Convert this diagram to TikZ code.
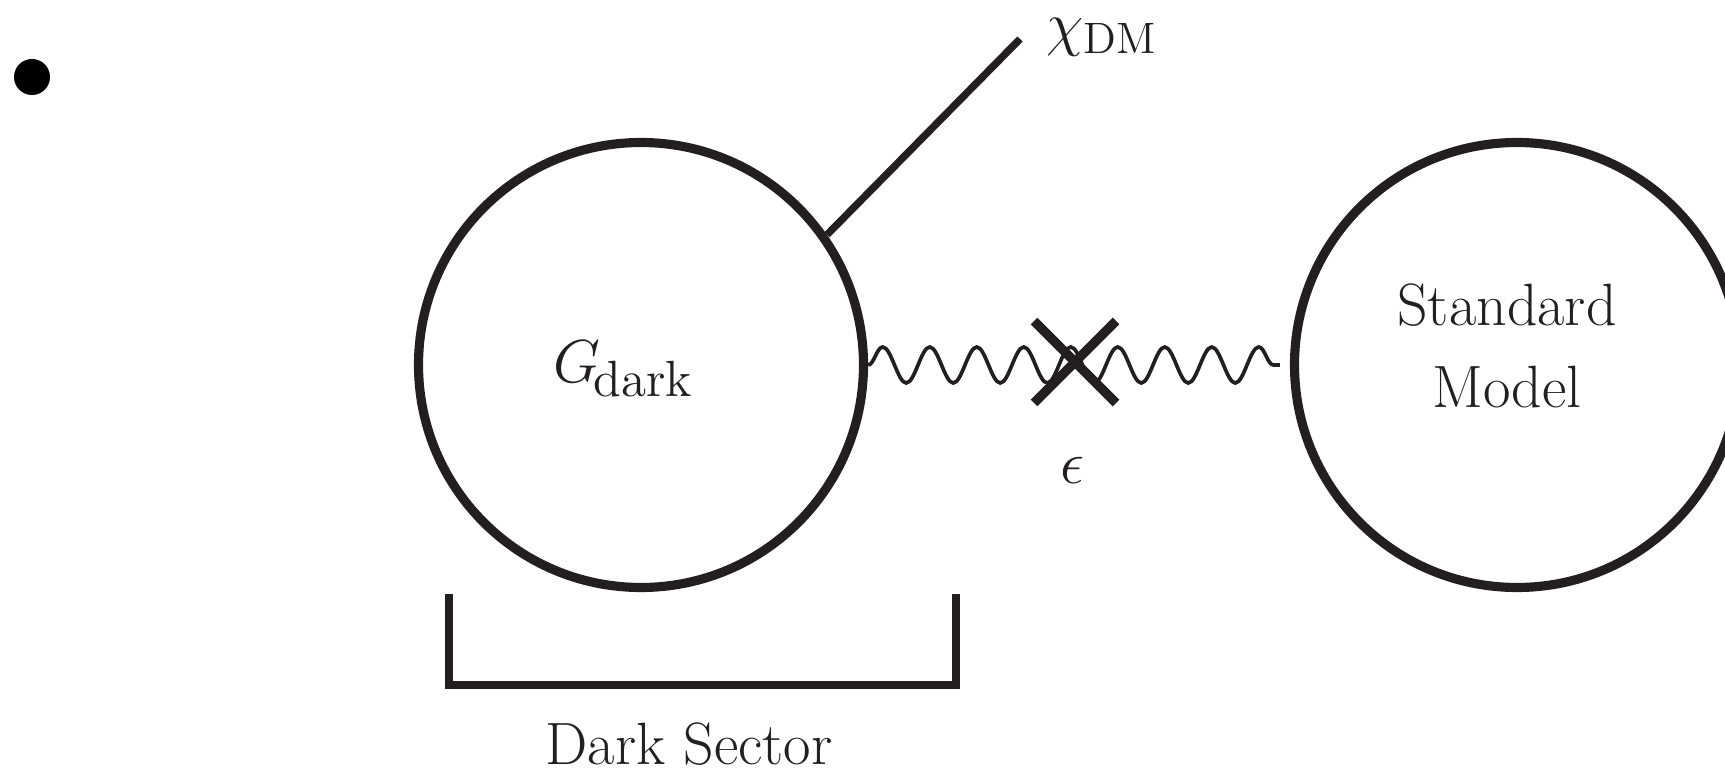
\documentclass[tikz,border=0pt]{standalone}
\usepackage{amsmath}
\usepackage{tikz}
\usetikzlibrary{decorations.pathmorphing}
\definecolor{sectorline}{HTML}{231F20}

\begin{document}
\begin{tikzpicture}[x=1cm,y=1cm,
        sector/.style={circle,draw=sectorline,line width=2.6pt,
          minimum size=4.45cm,inner sep=0pt},
        leg/.style={draw=sectorline,line width=2.1pt},
        photon/.style={draw=sectorline,line width=1.05pt,decorate,
          decoration={snake,segment length=4.7mm,amplitude=1.8mm}},
        mixing/.style={draw=sectorline,line width=2.7pt},
        lbl/.style={text=sectorline,font=\fontsize{17}{22}\selectfont,
          inner sep=0pt}]
        \clip (0,0) rectangle (17.25,7.73);
        % Bullet of the slide.
        \fill[black] (0.32,6.96) circle [radius=0.18];
        % The two sectors, joined by the kinetic mixing.
        \node[sector] (gdark) at (6.41,4.08) {};
        \node[sector] (sm) at (15.17,4.08) {};
        \node[lbl,font=\fontsize{17.5}{21}\selectfont] (gdarklabel) at (6.24,4.04)
          {$G_{\!\text{\fontsize{14.5}{18}\selectfont dark}}$};
        \node[lbl,align=center] (smlabel) at (15.07,4.27)
          {Standard\\[1.5pt]Model};
        \draw[photon] (gdark.east) -- ([xshift=-1mm]sm.west);
        \coordinate (mix) at (10.75,4.11);
        \draw[mixing] ([shift={(-0.41,-0.41)}]mix) -- ([shift={(0.41,0.41)}]mix);
        \draw[mixing] ([shift={(-0.41,0.41)}]mix) -- ([shift={(0.41,-0.41)}]mix);
        \node[lbl] (eps) at (10.73,3.03) {$\epsilon$};
        % Dark matter leg.
        \coordinate (chiend) at (10.20,7.34);
        \draw[leg] (gdark.35) -- (chiend);
        \node[lbl,anchor=west,font=\fontsize{19}{23}\selectfont] (chi) at (10.46,7.36)
          {$\chi_{\text{\fontsize{12.5}{15}\selectfont DM}}$};
        % Bracket under the dark sector.
        \coordinate (bracketl) at (4.49,1.79);
        \coordinate (bracketr) at (9.56,1.79);
        \draw[leg] (bracketl) -- (bracketl |- 0,0.88) -- (bracketr |- 0,0.88) -- (bracketr);
        \node[lbl,anchor=base] (darksector) at (6.89,0.09) {Dark Sector};
      \end{tikzpicture}
\end{document}
